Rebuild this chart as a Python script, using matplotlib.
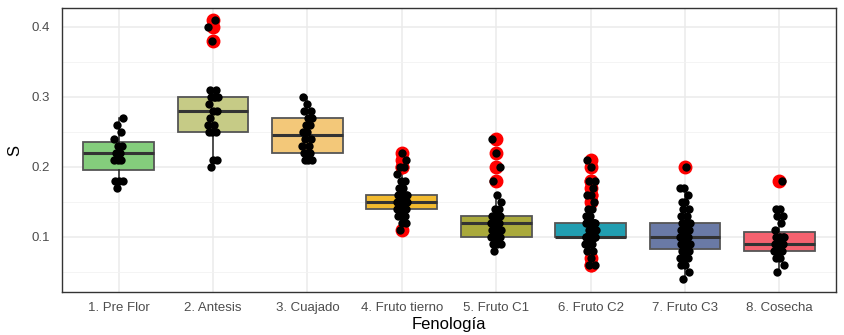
import matplotlib
matplotlib.use("Agg")
import matplotlib.pyplot as plt
from matplotlib.ticker import MultipleLocator
import numpy as np

plt.rcParams['font.family'] = ['Liberation Sans Narrow', 'Liberation Sans', 'DejaVu Sans']

categories = ["1. Pre Flor", "2. Antesis", "3. Cuajado", "4. Fruto tierno",
              "5. Fruto C1", "6. Fruto C2", "7. Fruto C3", "8. Cosecha"]

pre_flor = [0.17, 0.18, 0.18, 0.18, 0.21, 0.21, 0.21, 0.22, 0.22, 0.23, 0.23,
            0.24, 0.25, 0.26, 0.27]
antesis = [0.20, 0.21, 0.21, 0.25, 0.25, 0.25, 0.26, 0.26, 0.27, 0.28, 0.28,
           0.29, 0.30, 0.30, 0.30, 0.30, 0.31, 0.31, 0.38, 0.40, 0.41]
cuajado = [0.21, 0.21, 0.21, 0.22, 0.22, 0.22, 0.23, 0.23, 0.24, 0.24, 0.25,
           0.25, 0.26, 0.26, 0.27, 0.27, 0.28, 0.28, 0.29, 0.30]
fruto_tierno = ([0.11] + [0.12] * 2 + [0.13] * 3 + [0.14] * 7 + [0.15] * 7 +
                [0.16] * 8 + [0.17] * 2 + [0.18] * 2 + [0.19] + [0.20] * 2 +
                [0.21] + [0.22])
fruto_c1 = ([0.08] + [0.09] * 3 + [0.10] * 6 + [0.11] * 5 + [0.12] * 6 +
            [0.13] * 4 + [0.14] * 2 + [0.15, 0.16, 0.18, 0.20, 0.22, 0.24])
fruto_c2 = ([0.06] * 2 + [0.07] + [0.08] * 2 + [0.09] * 4 + [0.10] * 17 +
            [0.11] * 3 + [0.12] * 10 + [0.13] * 2 + [0.14] * 2 + [0.15] +
            [0.16] * 2 + [0.17] + [0.18] * 2 + [0.20] + [0.21])
fruto_c3 = ([0.04] + [0.05] + [0.06] * 2 + [0.07] * 3 + [0.08] * 4 +
            [0.09] * 5 + [0.10] * 6 + [0.11] * 5 + [0.12] * 5 + [0.13] * 2 +
            [0.14] * 2 + [0.15] * 2 + [0.16] + [0.17] * 2 + [0.20])
cosecha = ([0.05] + [0.06] + [0.07] * 2 + [0.08] * 4 + [0.09] * 6 +
           [0.10] * 5 + [0.11] + [0.12] + [0.13] * 2 + [0.14] * 2 + [0.18])

groups = [pre_flor, antesis, cuajado, fruto_tierno, fruto_c1, fruto_c2,
          fruto_c3, cosecha]
colors = ["#84CD7C", "#C6CB86", "#F3C879", "#F2BA2E", "#A9A93B", "#219EB1",
          "#6A7AA6", "#F6626F"]

fig = plt.figure(figsize=(8.44, 3.35), dpi=100)
ax = fig.add_axes([0.0735, 0.128, 0.917, 0.848])

positions = np.arange(1, len(categories) + 1)
bp = ax.boxplot(groups, positions=positions, widths=0.75, patch_artist=True,
                whis=1.5, zorder=3,
                medianprops=dict(color="#333333", linewidth=2.2),
                boxprops=dict(edgecolor="#555555", linewidth=1.3),
                whiskerprops=dict(color="#222222", linewidth=1.1),
                capprops=dict(linewidth=0),
                flierprops=dict(marker="o", markerfacecolor="#FF0000",
                                markeredgecolor="#FF0000", markersize=9))
for patch, c in zip(bp["boxes"], colors):
    patch.set_facecolor(c)

for pos, g in zip(positions, groups):
    n = len(g)
    idx = np.arange(n)
    offs = ((idx * 0.618034 + 0.3) % 1.0 - 0.5) * 0.11
    ax.scatter(pos + offs, g, s=36, color="black", zorder=5, linewidths=0)

ax.set_xlim(0.4, 8.6)
ax.set_ylim(0.021, 0.427)
ax.set_xticks(positions)
ax.set_xticklabels(categories)
ax.yaxis.set_major_locator(MultipleLocator(0.1))
ax.yaxis.set_minor_locator(MultipleLocator(0.05))
ax.set_yticks([0.1, 0.2, 0.3, 0.4])
ax.set_yticklabels(["0.1", "0.2", "0.3", "0.4"])

ax.grid(True, which="major", color="#EBEBEB", linewidth=1.1, zorder=0)
ax.grid(True, which="minor", axis="y", color="#F2F2F2", linewidth=0.6, zorder=0)
ax.set_axisbelow(True)

ax.tick_params(axis="both", which="both", length=0, labelsize=9.5,
               labelcolor="#4D4D4D")
ax.tick_params(axis="x", pad=7)
ax.tick_params(axis="y", pad=9)

for sp in ax.spines.values():
    sp.set_color("#333333")
    sp.set_linewidth(1.0)

ax.set_xlabel("Fenología", fontsize=12, color="black", labelpad=2)
ax.set_ylabel("S", fontsize=12, color="black", labelpad=6)

fig.savefig("out.png", dpi=100)
